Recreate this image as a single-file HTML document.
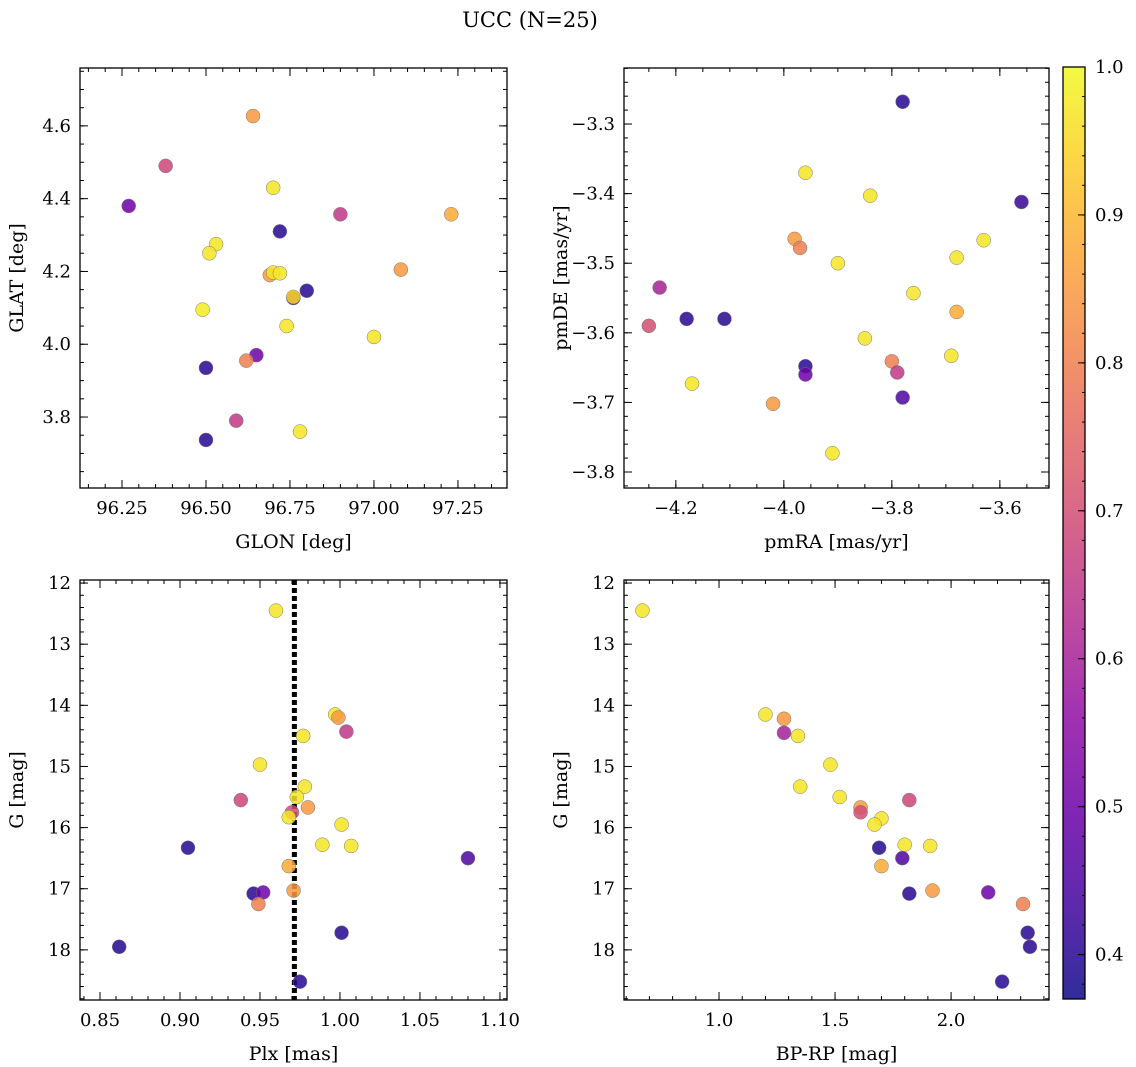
<!DOCTYPE html>
<html><head><meta charset="utf-8"><style>
body{margin:0;background:#fff}
svg{display:block;font-family:"DejaVu Serif","Liberation Serif",serif}
</style></head><body>
<svg id="fig" width="1136" height="1067" viewBox="0 0 1136 1067">
<text x="530" y="27" font-size="21" text-anchor="middle">UCC (N=25)</text>
</svg>
<script>
// Panel 1 data: GLON vs GLAT
const glon=[96.64,96.38,96.27,96.70,96.90,97.23,96.72,96.53,96.51,96.69,96.70,96.72,97.08,96.76,96.76,96.80,96.49,96.74,97.0,96.65,96.62,96.50,96.59,96.78,96.50];
const glat=[4.627,4.49,4.38,4.43,4.357,4.357,4.31,4.275,4.25,4.19,4.197,4.195,4.205,4.127,4.13,4.147,4.095,4.05,4.02,3.97,3.955,3.935,3.79,3.76,3.737];
const prob1=[0.85,0.68,0.5,0.97,0.65,0.88,0.4,0.97,0.97,0.85,0.97,0.97,0.85,0.45,0.95,0.4,0.98,0.97,0.97,0.5,0.8,0.4,0.65,0.97,0.4];
// Panel 2 data: pmRA vs pmDE
const pmra=[-3.78,-3.96,-3.84,-3.56,-3.98,-3.97,-3.63,-3.90,-3.68,-3.76,-4.23,-4.25,-4.18,-4.11,-3.85,-3.69,-3.68,-3.80,-3.96,-3.96,-3.79,-4.17,-3.78,-4.02,-3.91];
const pmde=[-3.268,-3.37,-3.403,-3.412,-3.465,-3.478,-3.467,-3.50,-3.492,-3.543,-3.535,-3.59,-3.58,-3.58,-3.608,-3.633,-3.57,-3.641,-3.648,-3.66,-3.657,-3.673,-3.693,-3.702,-3.773];
const prob2=[0.4,0.97,0.97,0.42,0.85,0.8,0.97,0.97,0.97,0.97,0.6,0.7,0.4,0.4,0.97,0.97,0.88,0.8,0.4,0.5,0.65,0.97,0.45,0.85,0.97];
// Panel 3 data: Plx vs G
const plx=[0.960,0.997,0.999,0.977,1.004,0.950,0.978,0.973,0.938,0.980,0.970,0.968,1.001,0.989,1.007,0.905,1.080,0.968,0.971,0.946,0.952,0.949,1.001,0.862,0.975];
const gmag3=[12.45,14.15,14.2,14.5,14.43,14.97,15.33,15.5,15.55,15.67,15.75,15.83,15.95,16.28,16.3,16.33,16.5,16.63,17.03,17.08,17.06,17.25,17.72,17.95,18.52];
const prob3=[0.97,0.97,0.85,0.97,0.65,0.97,0.97,0.97,0.68,0.85,0.7,0.97,0.97,0.97,0.97,0.4,0.45,0.88,0.85,0.4,0.5,0.8,0.4,0.4,0.4];
const plxLine=0.9715;
// Panel 4 data: BP-RP vs G
const bprp=[0.67,1.20,1.28,1.28,1.34,1.48,1.35,1.52,1.82,1.61,1.61,1.70,1.67,1.69,1.80,1.91,1.79,1.70,1.92,1.82,2.16,2.31,2.33,2.34,2.22];
const gmag4=[12.45,14.15,14.22,14.45,14.5,14.97,15.33,15.5,15.55,15.67,15.75,15.85,15.95,16.33,16.28,16.3,16.5,16.63,17.03,17.08,17.06,17.25,17.72,17.95,18.52];
const prob4=[0.97,0.97,0.85,0.6,0.97,0.97,0.97,0.97,0.68,0.85,0.7,0.97,0.97,0.4,0.97,0.97,0.45,0.88,0.85,0.4,0.5,0.8,0.4,0.4,0.4];
// Tick labels
const p1xTicks=[96.25,96.5,96.75,97.0,97.25];
const p1yTicks=[3.8,4.0,4.2,4.4,4.6];
const p2xTicks=[-4.2,-4.0,-3.8,-3.6];
const p2yTicks=[-3.8,-3.7,-3.6,-3.5,-3.4,-3.3];
const p3xTicks=[0.85,0.90,0.95,1.00,1.05,1.10];
const gTicks=[12,13,14,15,16,17,18];
const p4xTicks=[1.0,1.5,2.0];
const cbTicks=[0.4,0.5,0.6,0.7,0.8,0.9,1.0];
const cmin=0.37,cmax=1.0;

const NS='http://www.w3.org/2000/svg';
const fig=document.getElementById('fig');
function mk(tag,attrs,parent){const e=document.createElementNS(NS,tag);for(const k in attrs)e.setAttribute(k,attrs[k]);(parent||fig).appendChild(e);return e;}
const stops=[[13,8,135],[65,4,157],[106,0,168],[143,13,164],[177,42,144],[204,71,120],[225,100,98],[242,132,75],[252,166,54],[252,206,37],[240,249,33]];
function plasma(t){t=Math.max(0,Math.min(1,t));const f=t*10,i=Math.min(9,Math.floor(f)),r=f-i;const a=stops[i],b=stops[i+1];return 'rgb('+a.map((v,k)=>Math.round(v+(b[k]-v)*r)).join(',')+')';}
function pc(p){return plasma((p-cmin)/(cmax-cmin));}
const TF=18, LF=19;

function panel(o){
  const sx=v=>o.x0+(v-o.xmin)/(o.xmax-o.xmin)*(o.x1-o.x0);
  const sy=o.inv?(v=>o.y0+(v-o.ymin)/(o.ymax-o.ymin)*(o.y1-o.y0)):(v=>o.y1-(v-o.ymin)/(o.ymax-o.ymin)*(o.y1-o.y0));
  const g=mk('g',{});
  
  
  const mtick=(vals,axis,len)=>{vals.forEach(v=>{
    if(axis==='x'){const x=sx(v);if(x<o.x0-0.5||x>o.x1+0.5)return;
      mk('line',{x1:x,x2:x,y1:o.y1,y2:o.y1-len,stroke:'#000','stroke-width':1},g);
      mk('line',{x1:x,x2:x,y1:o.y0,y2:o.y0+len,stroke:'#000','stroke-width':1},g);}
    else{const y=sy(v);if(y<o.y0-0.5||y>o.y1+0.5)return;
      mk('line',{x1:o.x0,x2:o.x0+len,y1:y,y2:y,stroke:'#000','stroke-width':1},g);
      mk('line',{x1:o.x1,x2:o.x1-len,y1:y,y2:y,stroke:'#000','stroke-width':1},g);}
  });};
  const range=(a,b,s)=>{const r=[];for(let v=a;v<=b+1e-9;v+=s)r.push(+v.toFixed(6));return r;};
  mtick(range(Math.ceil(o.xmin/o.xm)*o.xm,o.xmax,o.xm),'x',4);
  mtick(range(Math.ceil(o.ymin/o.ym)*o.ym,o.ymax,o.ym),'y',4);
  mtick(o.xt,'x',8);mtick(o.yt,'y',8);
  o.xt.forEach(v=>{const t=mk('text',{x:sx(v),y:o.y1+26,'font-size':TF,'text-anchor':'middle'},g);t.textContent=o.xf(v).replace('-','\u2212');
    
    });
  o.yt.forEach(v=>{const t=mk('text',{x:o.x0-9,y:sy(v)+6,'font-size':TF,'text-anchor':'end'},g);t.textContent=o.yf(v).replace('-','\u2212');
    
    });
  const xl=mk('text',{x:(o.x0+o.x1)/2,y:o.y1+60,'font-size':LF,'text-anchor':'middle'},g);xl.textContent=o.xlab;
  
  
  const yc=(o.y0+o.y1)/2,yx=o.x0-57;
  const yl=mk('text',{x:yx,y:yc,'font-size':LF,'text-anchor':'middle',transform:'rotate(-90 '+yx+' '+yc+')'},g);yl.textContent=o.ylab;
  
  
  if(o.vline!==undefined){const l=mk('line',{x1:sx(o.vline),x2:sx(o.vline),y1:o.y0,y2:o.y1,stroke:'#000','stroke-width':5,'stroke-dasharray':'5 3'},g);
    
    }
  for(let i=0;i<o.xs.length;i++){
    const c=mk('circle',{cx:sx(o.xs[i]),cy:sy(o.ys[i]),r:7,fill:pc(o.ps[i]),'fill-opacity':0.85,stroke:'#777','stroke-width':0.5},g);
    
    
  }
  const fr=mk('rect',{x:o.x0,y:o.y0,width:o.x1-o.x0,height:o.y1-o.y0,fill:'none',stroke:'#000','stroke-width':1.3},g);
  
  
}
const f2=v=>v.toFixed(2),f1=v=>v.toFixed(1),f0=v=>v.toFixed(0);
panel({name:'glon-glat-panel',x0:80,x1:507,y0:68,y1:488,xmin:96.125,xmax:97.396,ymin:3.605,ymax:4.759,xt:p1xTicks,yt:p1yTicks,xm:0.05,ym:0.05,xf:f2,yf:f1,xlab:'GLON [deg]',ylab:'GLAT [deg]',xs:glon,ys:glat,ps:prob1});
panel({name:'proper-motion-panel',x0:624,x1:1049,y0:68,y1:488,xmin:-4.296,xmax:-3.509,ymin:-3.823,ymax:-3.2195,xt:p2xTicks,yt:p2yTicks,xm:0.05,ym:0.02,xf:f1,yf:f1,xlab:'pmRA [mas/yr]',ylab:'pmDE [mas/yr]',xs:pmra,ys:pmde,ps:prob2});
panel({name:'plx-g-panel',x0:80,x1:507,y0:580,y1:1000,xmin:0.8375,xmax:1.1044,ymin:11.95,ymax:18.82,inv:true,xt:p3xTicks,yt:gTicks,xm:0.01,ym:0.2,xf:f2,yf:f0,xlab:'Plx [mas]',ylab:'G [mag]',xs:plx,ys:gmag3,ps:prob3,vline:plxLine});
panel({name:'cmd-panel',x0:624,x1:1049,y0:580,y1:1000,xmin:0.5905,xmax:2.422,ymin:11.95,ymax:18.82,inv:true,xt:p4xTicks,yt:gTicks,xm:0.1,ym:0.2,xf:f1,yf:f0,xlab:'BP-RP [mag]',ylab:'G [mag]',xs:bprp,ys:gmag4,ps:prob4});

// colorbar
const cb=mk('g',{});


const cx0=1063,cx1=1085,cy0=67,cy1=999;
const defs=mk('defs',{},cb);
const lg=mk('linearGradient',{id:'cbg',x1:0,y1:1,x2:0,y2:0},defs);
for(let i=0;i<=20;i++){mk('stop',{offset:i/20,'stop-color':plasma(i/20)},lg);}
mk('rect',{x:cx0,y:cy0,width:cx1-cx0,height:cy1-cy0,fill:'url(#cbg)','fill-opacity':0.85},cb);
const cy=v=>cy1-(v-cmin)/(cmax-cmin)*(cy1-cy0);
for(let v=0.38;v<=1.0001;v+=0.02){const y=cy(v);mk('line',{x1:cx1,x2:cx1-3,y1:y,y2:y,stroke:'#000','stroke-width':1},cb);}
cbTicks.forEach(v=>{const y=cy(v);mk('line',{x1:cx1,x2:cx1-7,y1:y,y2:y,stroke:'#000','stroke-width':1},cb);
  const t=mk('text',{x:cx1+10,y:y+6,'font-size':TF},cb);t.textContent=v.toFixed(1);
  
  });
mk('rect',{x:cx0,y:cy0,width:cx1-cx0,height:cy1-cy0,fill:'none',stroke:'#000','stroke-width':1.3},cb);
</script>
</body></html>
